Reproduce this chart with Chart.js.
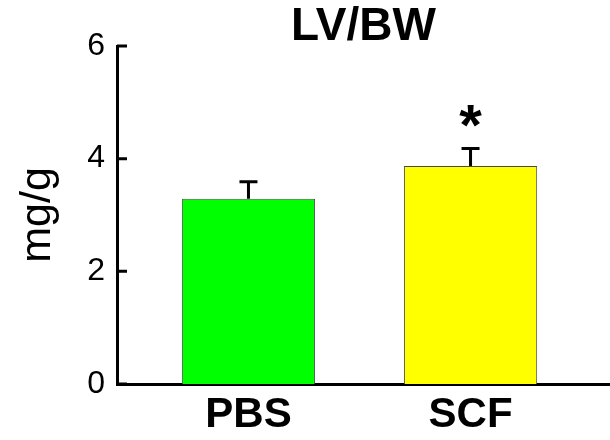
<!DOCTYPE html>
<html>
<head>
<meta charset="utf-8">
<script src="https://cdn.jsdelivr.net/npm/chart.js@4.4.1/dist/chart.umd.min.js"></script>
<style>
  html, body { margin: 0; padding: 0; background: #fff; }
  #wrap { width: 610px; height: 440px; position: relative; }
</style>
</head>
<body>
<div id="wrap"><canvas id="c"></canvas></div>
<script>
// ---- data ----
const categories = ['PBS', 'SCF'];
const means = [3.29, 3.87];
const errors = [0.30, 0.31];
const significance = ['', '*'];
const barColors = ['#00ff00', '#ffff00'];
const yTicks = [0, 2, 4, 6];
const chartTitle = 'LV/BW';
const yTitle = 'mg/g';

// x range (in category units) so bars sit where the reference puts them
const xRange = [-0.592, 1.628];

const FONT = '"Liberation Sans", Arial, Helvetica, sans-serif';

const axisPlugin = {
  id: 'innerTicks',
  afterDraw(chart) {
    const ctx = chart.ctx;
    const y = chart.scales.y;
    const a = chart.chartArea;
    ctx.save();
    ctx.strokeStyle = '#000';
    ctx.lineWidth = 3;
    ctx.beginPath();
    yTicks.forEach(v => {
      const py = y.getPixelForValue(v);
      ctx.moveTo(a.left, py);
      ctx.lineTo(a.left + 10, py);
    });
    ctx.stroke();
    ctx.restore();
  }
};

const errorBarPlugin = {
  id: 'errorBars',
  afterDatasetsDraw(chart) {
    const ctx = chart.ctx;
    const yScale = chart.scales.y;
    const meta = chart.getDatasetMeta(0);
    ctx.save();
    meta.data.forEach((el, i) => {
      const x = el.x;
      const yBar = el.y;
      const yTop = yScale.getPixelForValue(means[i] + errors[i]);
      ctx.strokeStyle = '#000';
      ctx.lineWidth = 3;
      ctx.beginPath();
      ctx.moveTo(x, yBar);
      ctx.lineTo(x, yTop);
      ctx.moveTo(x - 9, yTop);
      ctx.lineTo(x + 9, yTop);
      ctx.stroke();
      if (significance[i]) {
        ctx.fillStyle = '#000';
        ctx.font = 'bold 58px ' + FONT;
        ctx.textAlign = 'center';
        ctx.textBaseline = 'alphabetic';
        ctx.fillText(significance[i], x, yTop - 4);
      }
    });
    ctx.restore();
  }
};

new Chart(document.getElementById('c'), {
  type: 'bar',
  data: {
    datasets: [{
      data: categories.map((c, i) => ({ x: i, y: means[i] })),
      backgroundColor: barColors,
      borderColor: '#4a4a4a',
      borderWidth: 1,
      borderSkipped: 'bottom',
      barPercentage: 0.6,
      categoryPercentage: 1.0
    }]
  },
  options: {
    responsive: true,
    maintainAspectRatio: false,
    animation: false,
    layout: { padding: { left: 0, right: 0, top: 0, bottom: 0 } },
    plugins: {
      legend: { display: false },
      tooltip: { enabled: false },
      title: {
        display: true,
        text: chartTitle,
        fullSize: false,
        color: '#000',
        font: { family: FONT, size: 46, weight: 'bold', lineHeight: 0.8 },
        padding: { top: 9, bottom: 0.2 }
      }
    },
    scales: {
      x: {
        type: 'linear',
        offset: false,
        bounds: 'data',
        min: xRange[0],
        max: xRange[1],
        afterDataLimits: (s) => { s.min = xRange[0]; s.max = xRange[1]; },
        afterBuildTicks: (s) => { s.ticks = categories.map((c, i) => ({ value: i })); },
        grid: { display: false, drawTicks: false, offset: false },
        border: { display: true, color: '#000', width: 3 },
        ticks: {
          autoSkip: false,
          maxRotation: 0,
          padding: 6,
          color: '#000',
          font: { family: FONT, size: 42, weight: 'bold' },
          callback: (v) => categories[Math.round(v)] ?? ''
        },
        afterFit: (s) => { s.height = 56; }
      },
      y: {
        min: 0,
        max: 6,
        afterBuildTicks: (s) => { s.ticks = yTicks.map(v => ({ value: v })); },
        grid: { display: false, drawTicks: false },
        border: { display: true, color: '#000', width: 3 },
        ticks: {
          padding: 12,
          color: '#000',
          font: { family: FONT, size: 32 }
        },
        title: {
          display: true,
          text: yTitle,
          color: '#000',
          font: { family: FONT, size: 43 },
          padding: { top: 12, bottom: 0 }
        },
        afterFit: (s) => { s.width = 117; }
      }
    }
  },
  plugins: [errorBarPlugin, axisPlugin]
});
</script>
</body>
</html>
